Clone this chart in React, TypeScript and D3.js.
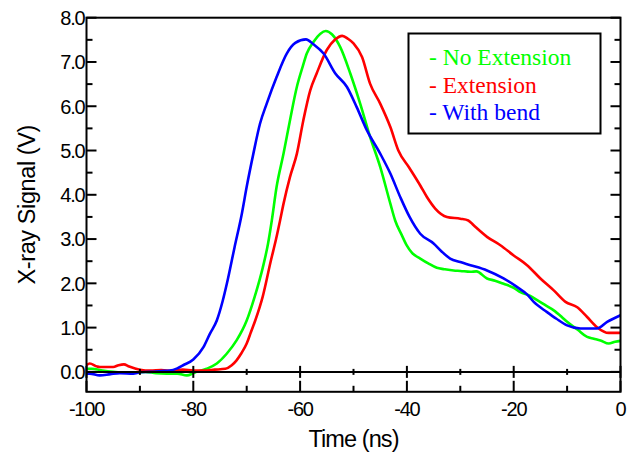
import React from "react";
import * as d3 from "d3";

const W = 633;
const H = 461;

const xTicks = [-100, -80, -60, -40, -20, 0];
const yTicks = [0, 1, 2, 3, 4, 5, 6, 7, 8];
const legendLabels = ["- No Extension", "- Extension", "- With bend"];
const seriesColors = ["#00ff00", "#ff0000", "#0000ff"];

const noExtension: [number, number][] = [
  [-100, 0.07], [-99, 0.07], [-97, 0.03], [-95, 0.0], [-93, -0.02], [-91, -0.02],
  [-89, 0.0], [-87, -0.03], [-85, -0.04], [-83, -0.04], [-81.2, -0.08], [-80, -0.03],
  [-79.4, 0.0], [-77.5, 0.07], [-75.6, 0.19], [-73.75, 0.41], [-71.9, 0.71], [-70, 1.16],
  [-68.5, 1.7], [-67, 2.35], [-66, 2.9], [-65.3, 3.42], [-64.4, 4.18], [-63.1, 4.93],
  [-61.9, 5.68], [-60.6, 6.44], [-59.5, 6.9], [-58.75, 7.19], [-57.5, 7.45], [-56.2, 7.64],
  [-55.2, 7.7], [-54, 7.62], [-52.5, 7.34], [-50.6, 6.74], [-48.75, 6.06], [-46.9, 5.31],
  [-45, 4.63], [-43.1, 3.8], [-42.2, 3.42], [-41, 3.1], [-40, 2.85], [-39, 2.68],
  [-37.5, 2.56], [-36, 2.45], [-34.4, 2.35], [-33, 2.32], [-31.25, 2.29], [-30, 2.28],
  [-28.1, 2.26], [-27, 2.27], [-25, 2.11], [-23.5, 2.06], [-21.9, 1.99], [-20, 1.9],
  [-18.75, 1.8], [-17, 1.72], [-15.6, 1.62], [-14, 1.5], [-12.5, 1.39], [-11, 1.24],
  [-10, 1.13], [-8, 0.95], [-6.25, 0.79], [-5, 0.75], [-3.75, 0.71], [-2.2, 0.64],
  [-1, 0.68], [0, 0.7],
];

const extension: [number, number][] = [
  [-100, 0.15], [-99.4, 0.19], [-98, 0.12], [-97.5, 0.11], [-95, 0.11], [-94, 0.15],
  [-93, 0.17], [-92, 0.12], [-90, 0.05], [-88, 0.03], [-86, 0.04], [-84, 0.02],
  [-82, 0.05], [-80, 0.03], [-78, 0.03], [-76, 0.05], [-74, 0.07], [-72.8, 0.15],
  [-71.9, 0.26], [-71, 0.42], [-70, 0.64], [-69.2, 0.9], [-68.4, 1.16], [-67, 1.7],
  [-65.5, 2.5], [-64.5, 3.0], [-63.75, 3.42], [-63.1, 3.8], [-61.9, 4.4], [-60.6, 4.93],
  [-59.4, 5.68], [-58.1, 6.36], [-56.9, 6.74], [-55, 7.27], [-53.5, 7.5], [-52.1, 7.59],
  [-51, 7.52], [-50, 7.42], [-48.4, 7.11], [-46.9, 6.51], [-45, 6.06], [-43.1, 5.53],
  [-41.6, 5.0], [-39.5, 4.6], [-37.5, 4.21], [-36.25, 3.95], [-34.7, 3.69], [-32.5, 3.5],
  [-30, 3.46], [-28.5, 3.42], [-27.5, 3.31], [-25, 3.05], [-22.5, 2.86], [-20, 2.63],
  [-17.5, 2.41], [-15, 2.11], [-12.5, 1.84], [-10.3, 1.58], [-8.1, 1.46], [-6.25, 1.24],
  [-4.4, 1.01], [-2.2, 0.88], [0, 0.88],
];

const withBend: [number, number][] = [
  [-100, -0.04], [-99.4, -0.04], [-97.5, -0.08], [-95.5, -0.05], [-93.75, -0.03],
  [-91.25, -0.04], [-90, -0.01], [-88, 0.0], [-86, 0.02], [-84.4, 0.03], [-83, 0.08],
  [-81.9, 0.15], [-80, 0.28], [-78.1, 0.56], [-76.9, 0.86], [-75.6, 1.16], [-74.5, 1.6],
  [-73.7, 2.0], [-72.3, 2.8], [-70.9, 3.58], [-70, 4.18], [-68.75, 4.93], [-67.5, 5.61],
  [-66.25, 6.06], [-64.4, 6.66], [-62.5, 7.19], [-60.9, 7.43], [-58.9, 7.51], [-57.5, 7.4],
  [-55.6, 7.19], [-53.4, 6.74], [-51.25, 6.44], [-49.4, 5.98], [-47.5, 5.46], [-45, 4.93],
  [-43.1, 4.48], [-41.25, 3.95], [-39.5, 3.5], [-37.5, 3.12], [-35, 2.9], [-33.5, 2.72],
  [-31.9, 2.56], [-30, 2.48], [-28.1, 2.41], [-25, 2.29], [-21.9, 2.11], [-19.4, 1.92],
  [-17.5, 1.75], [-16.25, 1.58], [-13.75, 1.35], [-12, 1.2], [-10, 1.05], [-7.5, 0.98],
  [-4.4, 0.98], [-2.5, 1.13], [0, 1.28],
];

const seriesList = [noExtension, extension, withBend];

const left = 86.5;
const right = 620.5;
const top = 17.7;
const bottom = 391.8;

export default function App() {
  const x = d3.scaleLinear().domain([-100, 0]).range([left, right]);
  const y = d3.scaleLinear().domain([-0.45, 8]).range([bottom, top]);
  const line = d3
    .line<[number, number]>()
    .x((d) => x(d[0]))
    .y((d) => y(d[1]))
    .curve(d3.curveMonotoneX);

  const yMinor = d3.range(0, 8.01, 0.5);
  const xAll = d3.range(-100, 0.01, 10);
  const sans = "'Liberation Sans', Arial, sans-serif";

  return (
    <svg
      width={W}
      height={H}
      style={{ position: "absolute", left: 0, top: 0, background: "#fff" }}
    >
      <rect x={0} y={0} width={W} height={H} fill="#fff" />
      <defs>
        <clipPath id="clip">
          <rect x={left} y={top} width={right - left} height={bottom - top} />
        </clipPath>
      </defs>
      {/* series */}
      <g clipPath="url(#clip)">
        {seriesList.map((s, i) => (
          <path
            key={i}
            d={line(s) || ""}
            fill="none"
            stroke={seriesColors[i]}
            strokeWidth={2.6}
            strokeLinejoin="round"
          />
        ))}
      </g>
      {/* zero line */}
      <line x1={left} x2={right} y1={y(0)} y2={y(0)} stroke="#000" strokeWidth={2} />
      {xAll.map((v) => {
        const major = Math.round(v) % 20 === 0;
        const h = major ? 6 : 3;
        return (
          <line key={"zt" + v} x1={x(v)} x2={x(v)} y1={y(0) - h} y2={y(0) + h} stroke="#000" strokeWidth={2} />
        );
      })}
      {/* frame */}
      <rect x={left} y={top} width={right - left} height={bottom - top} fill="none" stroke="#000" strokeWidth={2} />
      {/* y ticks */}
      {yMinor.map((v) => {
        const major = Math.abs(v - Math.round(v)) < 1e-6;
        const len = major ? 10 : 6;
        return (
          <g key={"yt" + v}>
            <line x1={left} x2={left + len} y1={y(v)} y2={y(v)} stroke="#000" strokeWidth={2} />
            <line x1={right} x2={right - len} y1={y(v)} y2={y(v)} stroke="#000" strokeWidth={2} />
          </g>
        );
      })}
      {/* x ticks at bottom */}
      {xAll.map((v) => {
        const major = Math.round(v) % 20 === 0;
        const len = major ? 11 : 6;
        return <line key={"xt" + v} x1={x(v)} x2={x(v)} y1={bottom} y2={bottom - len} stroke="#000" strokeWidth={2} />;
      })}
      {/* y labels */}
      {yTicks.map((v) => (
        <text
          key={"yl" + v}
          x={left - 2}
          y={y(v) + 2}
          textAnchor="end"
          dominantBaseline="middle"
          fontFamily={sans}
          fontSize={20}
          letterSpacing={-1.2}
          fill="#000"
        >
          {v.toFixed(1)}
        </text>
      ))}
      {/* x labels */}
      {xTicks.map((v) => (
        <text
          key={"xl" + v}
          x={x(v)}
          y={411}
          textAnchor="middle"
          dominantBaseline="middle"
          fontFamily={sans}
          fontSize={20}
          letterSpacing={-1.2}
          fill="#000"
        >
          {v}
        </text>
      ))}
      {/* axis titles */}
      <text
        x={(left + right) / 2}
        y={441}
        textAnchor="middle"
        dominantBaseline="middle"
        fontFamily={sans}
        fontSize={23.5}
        letterSpacing={-0.9}
        fill="#000"
      >
        Time (ns)
      </text>
      <text
        transform={`translate(29, ${(top + bottom) / 2}) rotate(-90)`}
        textAnchor="middle"
        dominantBaseline="middle"
        fontFamily={sans}
        fontSize={23.5}
        letterSpacing={-0.4}
        fill="#000"
      >
        X-ray Signal (V)
      </text>
      {/* legend */}
      <rect x={408.5} y={33.5} width={192} height={100} fill="#fff" stroke="#000" strokeWidth={2} />
      {legendLabels.map((t, i) => (
        <text
          key={"lg" + i}
          x={429}
          y={65 + i * 27.5}
          fontFamily="'Liberation Serif', 'Times New Roman', serif"
          fontSize={23.5}
          fill={seriesColors[i]}
        >
          {t}
        </text>
      ))}
    </svg>
  );
}
